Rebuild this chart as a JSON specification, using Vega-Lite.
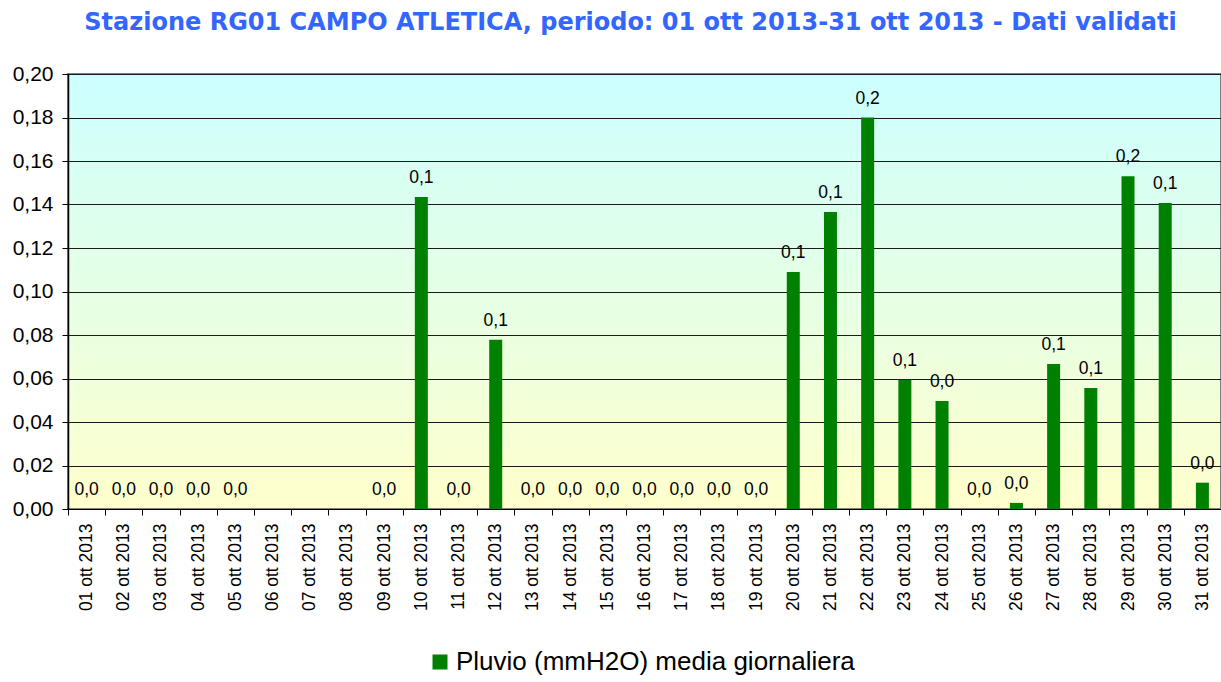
{
  "$schema": "https://vega.github.io/schema/vega-lite/v6.json",
  "autosize": "none",
  "width": 1153,
  "height": 435,
  "padding": {"left": 68, "top": 74, "right": 0, "bottom": 173},
  "background": "white",
  "title": {
    "text": "Stazione RG01 CAMPO ATLETICA, periodo: 01 ott 2013-31 ott 2013 - Dati validati",
    "font": "DejaVu Sans",
    "fontWeight": "bold",
    "fontSize": 24,
    "color": "#3366FF",
    "anchor": "middle",
    "frame": "group",
    "offset": 28,
    "dx": -14
  },
  "config": {
    "locale": {"number": {"decimal": ",", "thousands": ".", "grouping": [3], "currency": ["€", ""]}},
    "view": {
      "stroke": "#808080",
      "strokeWidth": 2,
      "fill": {
        "gradient": "linear",
        "x1": 0, "y1": 0, "x2": 0, "y2": 1,
        "stops": [
          {"offset": 0, "color": "#CCFFFF"},
          {"offset": 1, "color": "#FFFFCC"}
        ]
      }
    },
    "axis": {"labelFont": "Liberation Sans", "labelColor": "#000000", "domainColor": "#000000", "tickColor": "#000000"}
  },
  "data": {
    "values": [
      {"day": "01 ott 2013", "value": 0},
      {"day": "02 ott 2013", "value": 0},
      {"day": "03 ott 2013", "value": 0},
      {"day": "04 ott 2013", "value": 0},
      {"day": "05 ott 2013", "value": 0},
      {"day": "06 ott 2013", "value": null},
      {"day": "07 ott 2013", "value": null},
      {"day": "08 ott 2013", "value": null},
      {"day": "09 ott 2013", "value": 0},
      {"day": "10 ott 2013", "value": 0.1434},
      {"day": "11 ott 2013", "value": 0},
      {"day": "12 ott 2013", "value": 0.0778},
      {"day": "13 ott 2013", "value": 0},
      {"day": "14 ott 2013", "value": 0},
      {"day": "15 ott 2013", "value": 0},
      {"day": "16 ott 2013", "value": 0},
      {"day": "17 ott 2013", "value": 0},
      {"day": "18 ott 2013", "value": 0},
      {"day": "19 ott 2013", "value": 0},
      {"day": "20 ott 2013", "value": 0.109},
      {"day": "21 ott 2013", "value": 0.1366},
      {"day": "22 ott 2013", "value": 0.180},
      {"day": "23 ott 2013", "value": 0.0594},
      {"day": "24 ott 2013", "value": 0.0497},
      {"day": "25 ott 2013", "value": 0},
      {"day": "26 ott 2013", "value": 0.0028},
      {"day": "27 ott 2013", "value": 0.0667},
      {"day": "28 ott 2013", "value": 0.0556},
      {"day": "29 ott 2013", "value": 0.153},
      {"day": "30 ott 2013", "value": 0.1407},
      {"day": "31 ott 2013", "value": 0.0121}
    ]
  },
  "encoding": {
    "x": {
      "field": "day",
      "type": "nominal",
      "sort": null,
      "scale": {
        "domain": ["01 ott 2013","02 ott 2013","03 ott 2013","04 ott 2013","05 ott 2013","06 ott 2013","07 ott 2013","08 ott 2013","09 ott 2013","10 ott 2013","11 ott 2013","12 ott 2013","13 ott 2013","14 ott 2013","15 ott 2013","16 ott 2013","17 ott 2013","18 ott 2013","19 ott 2013","20 ott 2013","21 ott 2013","22 ott 2013","23 ott 2013","24 ott 2013","25 ott 2013","26 ott 2013","27 ott 2013","28 ott 2013","29 ott 2013","30 ott 2013","31 ott 2013"],
        "paddingInner": 0, "paddingOuter": 0
      },
      "axis": {
        "title": null,
        "labelAngle": -90,
        "labelFontSize": 17.5,
        "labelPadding": 8,
        "labelLimit": 0,
        "tickBand": "extent",
        "tickSize": 6,
        "domainWidth": 1
      }
    },
    "y": {
      "field": "value",
      "type": "quantitative",
      "scale": {"domain": [0, 0.2], "nice": false},
      "axis": {
        "title": null,
        "values": [0, 0.02, 0.04, 0.06, 0.08, 0.1, 0.12, 0.14, 0.16, 0.18, 0.2],
        "format": ".2f",
        "labelFontSize": 21,
        "labelPadding": 9,
        "tickSize": 6,
        "grid": true,
        "gridColor": "#1a1a1a",
        "gridWidth": 1,
        "gridOpacity": 1,
        "domainWidth": 1.5
      }
    }
  },
  "layer": [
    {
      "mark": {"type": "bar", "size": 13},
      "encoding": {
        "color": {
          "datum": "Pluvio (mmH2O) media giornaliera",
          "type": "nominal",
          "scale": {"range": ["#008000"]},
          "legend": {
            "title": null,
            "orient": "none",
            "legendX": 359,
            "legendY": 575,
            "symbolType": "square",
            "symbolSize": 225,
            "symbolStrokeWidth": 0,
            "labelFont": "Liberation Sans",
            "labelFontSize": 26,
            "labelLimit": 0,
            "labelColor": "#000000",
            "labelOffset": 3
          }
        }
      }
    },
    {
      "transform": [{"filter": "datum.value != null"}],
      "mark": {"type": "text", "font": "Liberation Sans", "fontSize": 17.5, "baseline": "alphabetic", "dy": -14, "color": "#000000"},
      "encoding": {
        "text": {"field": "value", "type": "quantitative", "format": ".1f"}
      }
    }
  ]
}
